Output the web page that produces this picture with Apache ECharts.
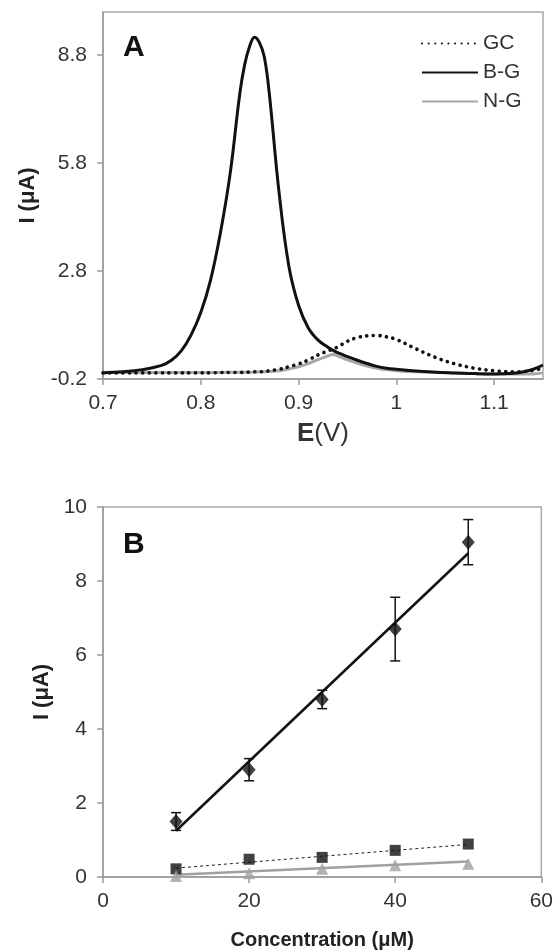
<!DOCTYPE html>
<html>
<head>
<meta charset="utf-8">
<script src="https://cdn.jsdelivr.net/npm/echarts@6/dist/echarts.min.js"></script>
<style>
  html, body { margin: 0; padding: 0; background: #fff; }
  #chart { width: 556px; height: 951px; }
</style>
</head>
<body>
<div id="chart"></div>
<script>
// panel A: voltammograms, E (V) vs I (uA)
const potential = [0.70, 0.72, 0.74, 0.76, 0.77, 0.78, 0.79, 0.80, 0.81, 0.82, 0.83, 0.84,
  0.845, 0.85, 0.855, 0.86, 0.865, 0.87, 0.88, 0.89, 0.90, 0.91, 0.92, 0.93, 0.935, 0.94,
  0.95, 0.96, 0.97, 0.98, 0.99, 1.00, 1.02, 1.04, 1.06, 1.08, 1.10, 1.12, 1.13, 1.14, 1.15];
const gcCurrent = [-0.03, -0.03, -0.03, -0.03, -0.03, -0.03, -0.03, -0.03, -0.03, -0.02, -0.02, -0.02,
  -0.01, -0.01, 0.0, 0.0, 0.01, 0.03, 0.07, 0.14, 0.22, 0.33, 0.47, 0.58, 0.63, 0.69,
  0.85, 0.95, 1.0, 1.01, 0.97, 0.90, 0.64, 0.40, 0.22, 0.10, 0.03, 0.0, 0.01, 0.04, 0.10];
const bgCurrent = [-0.03, 0.0, 0.06, 0.18, 0.32, 0.58, 1.02, 1.65, 2.55, 3.85, 5.50, 7.75,
  8.55, 9.05, 9.30, 9.15, 8.75, 7.75, 5.00, 2.95, 1.85, 1.22, 0.88, 0.68, 0.60, 0.53,
  0.42, 0.32, 0.23, 0.15, 0.10, 0.07, 0.02, -0.01, -0.03, -0.05, -0.06, -0.04, 0.0, 0.07, 0.19];
const ngCurrent = [-0.02, -0.02, -0.02, -0.02, -0.02, -0.02, -0.02, -0.02, -0.02, -0.02, -0.01, -0.01,
  -0.01, -0.01, -0.01, 0.0, 0.0, 0.01, 0.03, 0.08, 0.14, 0.23, 0.34, 0.44, 0.48, 0.44,
  0.33, 0.24, 0.16, 0.10, 0.06, 0.03, 0.0, -0.01, -0.03, -0.05, -0.06, -0.06, -0.06, -0.06, -0.03];

// panel B: calibration, concentration (uM) vs I (uA)
const concentration = [10, 20, 30, 40, 50];
const bgMean = [1.5, 2.9, 4.8, 6.7, 9.05];
const bgErr = [0.24, 0.3, 0.25, 0.86, 0.61];
const gcMean = [0.22, 0.48, 0.53, 0.72, 0.89];
const ngMean = [0.03, 0.10, 0.22, 0.32, 0.36];
const fitX = [10, 50];
const bgFit = [1.25, 8.75];
const gcFit = [0.24, 0.88];
const ngFit = [0.06, 0.42];

const FONT = 'Liberation Sans';
const pairs = (xs, ys) => xs.map((x, i) => [x, ys[i]]);

const tickLabel = { color: '#333', fontFamily: FONT, fontSize: 21 };
const axisLine = { show: true, onZero: false, lineStyle: { color: '#999', width: 1.5 } };
const axisTick = { show: true, inside: false, length: 6, lineStyle: { color: '#999', width: 1.5 } };

const chart = echarts.init(document.getElementById('chart'), null, { renderer: 'canvas' });

chart.setOption({
  animation: false,
  backgroundColor: '#fff',
  textStyle: { fontFamily: FONT },
  grid: [
    { left: 103, top: 12, width: 440, height: 367, show: true, borderColor: '#aaa', borderWidth: 1.5 },
    { left: 103, top: 507, width: 442, height: 370, show: true, borderColor: '#aaa', borderWidth: 1.5 }
  ],
  legend: {
    data: ['GC', 'B-G', 'N-G'],
    orient: 'vertical',
    left: 416,
    top: 28,
    itemWidth: 56,
    itemHeight: 14,
    itemGap: 8,
    itemStyle: { opacity: 0 },
    textStyle: { fontFamily: FONT, fontSize: 21, color: '#333', lineHeight: 20 }
  },
  xAxis: [
    {
      gridIndex: 0, type: 'value', min: 0.7, max: 1.15, interval: 0.1,
      name: '{b|E}(V)', nameLocation: 'middle', nameGap: 42,
      nameTextStyle: { fontFamily: FONT, fontSize: 26, color: '#333', rich: { b: { fontFamily: FONT, fontSize: 26, fontWeight: 'bold', color: '#333' } } },
      axisLine, axisTick, splitLine: { show: false },
      axisLabel: Object.assign({ margin: 14, showMaxLabel: false }, tickLabel)
    },
    {
      gridIndex: 1, type: 'value', min: 0, max: 60, interval: 20,
      name: 'Concentration (μM)', nameLocation: 'middle', nameGap: 53,
      nameTextStyle: { fontFamily: FONT, fontSize: 20, fontWeight: 'bold', color: '#222' },
      axisLine, axisTick, splitLine: { show: false },
      axisLabel: Object.assign({ margin: 14 }, tickLabel)
    }
  ],
  yAxis: [
    {
      gridIndex: 0, type: 'value', min: -0.2, max: 10, interval: 3,
      name: 'I (μA)', nameLocation: 'middle', nameGap: 64,
      nameTextStyle: { fontFamily: FONT, fontSize: 22, fontWeight: 'bold', color: '#222' },
      axisLine, axisTick, splitLine: { show: false },
      axisLabel: Object.assign({ margin: 16, showMaxLabel: false }, tickLabel)
    },
    {
      gridIndex: 1, type: 'value', min: 0, max: 10, interval: 2,
      name: 'I (μA)', nameLocation: 'middle', nameGap: 46,
      nameTextStyle: { fontFamily: FONT, fontSize: 22, fontWeight: 'bold', color: '#222' },
      axisLine, axisTick, splitLine: { show: false },
      axisLabel: Object.assign({ margin: 16 }, tickLabel)
    }
  ],
  graphic: [
    { type: 'text', left: 123, top: 33, style: { text: 'A', fontFamily: FONT, fontSize: 30, fontWeight: 'bold', fill: '#111' } },
    { type: 'text', left: 123, top: 530, style: { text: 'B', fontFamily: FONT, fontSize: 30, fontWeight: 'bold', fill: '#111' } }
  ],
  series: [
    {
      name: 'GC', type: 'line', xAxisIndex: 0, yAxisIndex: 0, smooth: 0.4, symbol: 'none',
      data: pairs(potential, gcCurrent),
      lineStyle: { color: '#111', width: 3.6, type: [0.1, 6.5], cap: 'round' },
      itemStyle: { color: '#111' }, z: 3
    },
    {
      name: 'N-G', type: 'line', xAxisIndex: 0, yAxisIndex: 0, smooth: 0.4, symbol: 'none',
      data: pairs(potential, ngCurrent),
      lineStyle: { color: '#a8a8a8', width: 3 },
      itemStyle: { color: '#a8a8a8' }, z: 2
    },
    {
      name: 'B-G', type: 'line', xAxisIndex: 0, yAxisIndex: 0, smooth: 0.4, symbol: 'none',
      data: pairs(potential, bgCurrent),
      lineStyle: { color: '#111', width: 3 },
      itemStyle: { color: '#111' }, z: 4
    },
    // panel B trendlines
    {
      name: 'B-G fit', type: 'line', xAxisIndex: 1, yAxisIndex: 1, symbol: 'none',
      data: pairs(fitX, bgFit), lineStyle: { color: '#111', width: 2.5 }
    },
    {
      name: 'GC fit', type: 'line', xAxisIndex: 1, yAxisIndex: 1, symbol: 'none',
      data: pairs(fitX, gcFit), lineStyle: { color: '#222', width: 1, type: [3, 3] }
    },
    {
      name: 'N-G fit', type: 'line', xAxisIndex: 1, yAxisIndex: 1, symbol: 'none',
      data: pairs(fitX, ngFit), lineStyle: { color: '#a0a0a0', width: 2.5 }
    },
    // panel B points
    {
      name: 'B-G pts', type: 'scatter', xAxisIndex: 1, yAxisIndex: 1,
      symbol: 'diamond', symbolSize: [13, 15], itemStyle: { color: '#111' },
      data: pairs(concentration, bgMean), z: 5
    },
    {
      name: 'GC pts', type: 'scatter', xAxisIndex: 1, yAxisIndex: 1,
      symbol: 'rect', symbolSize: 11, itemStyle: { color: '#111' },
      data: pairs(concentration, gcMean), z: 5
    },
    {
      name: 'N-G pts', type: 'scatter', xAxisIndex: 1, yAxisIndex: 1,
      symbol: 'triangle', symbolSize: 12, itemStyle: { color: '#a0a0a0' },
      data: pairs(concentration, ngMean), z: 5
    },
    {
      name: 'B-G err', type: 'custom', xAxisIndex: 1, yAxisIndex: 1,
      data: concentration.map((c, i) => [c, bgMean[i] - bgErr[i], bgMean[i] + bgErr[i]]),
      renderItem(params, api) {
        const lo = api.coord([api.value(0), api.value(1)]);
        const hi = api.coord([api.value(0), api.value(2)]);
        const cap = 5;
        const style = { stroke: '#111', lineWidth: 1.5 };
        return {
          type: 'group',
          children: [
            { type: 'line', shape: { x1: hi[0], y1: hi[1], x2: lo[0], y2: lo[1] }, style },
            { type: 'line', shape: { x1: hi[0] - cap, y1: hi[1], x2: hi[0] + cap, y2: hi[1] }, style },
            { type: 'line', shape: { x1: lo[0] - cap, y1: lo[1], x2: lo[0] + cap, y2: lo[1] }, style }
          ]
        };
      },
      z: 4
    }
  ]
});
</script>
</body>
</html>
